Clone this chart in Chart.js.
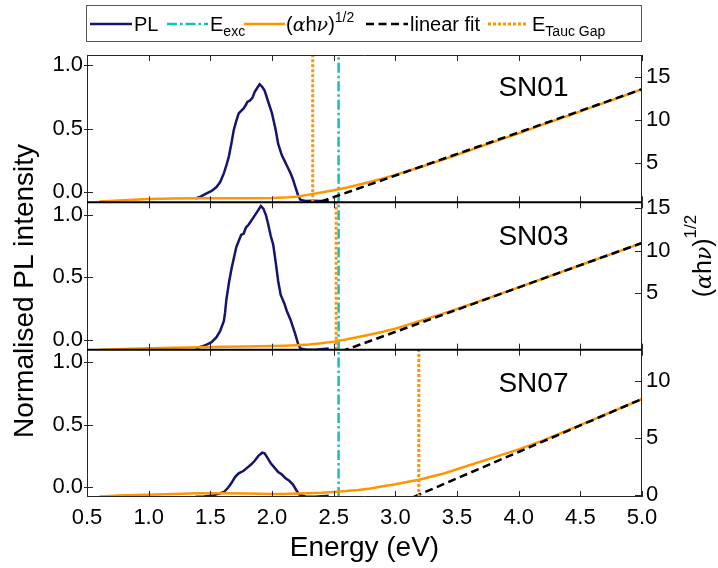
<!DOCTYPE html>
<html>
<head>
<meta charset="utf-8">
<script src="https://cdn.jsdelivr.net/npm/chart.js@4.4.1/dist/chart.umd.min.js"></script>
<style>
  html, body { margin: 0; padding: 0; background: #ffffff; }
  #wrap { position: relative; width: 718px; height: 568px; }
</style>
</head>
<body>
<div id="wrap"><canvas id="chart" width="718" height="568"></canvas></div>
<script>
// ---------------- data ----------------
const sampleNames = ['SN01', 'SN03', 'SN07'];

const xTickValues = [0.5, 1.0, 1.5, 2.0, 2.5, 3.0, 3.5, 4.0, 4.5, 5.0];
const xTickLabels = ['0.5', '1.0', '1.5', '2.0', '2.5', '3.0', '3.5', '4.0', '4.5', '5.0'];
const plTickValues = [0, 0.5, 1.0];
const plTickLabels = ['0.0', '0.5', '1.0'];
const taucTickValues = [[5, 10, 15], [5, 10, 15], [0, 5, 10]];

const excitationEnergy = 2.54;              // eV
const taucGapEnergy = [2.33, 2.52, 3.19];   // eV, SN01 / SN03 / SN07

// photoluminescence spectra (normalised)
const plEnergy01 = [1.38, 1.42, 1.47, 1.51, 1.55, 1.58, 1.61, 1.63, 1.65, 1.67, 1.69, 1.71, 1.73, 1.75, 1.77, 1.79, 1.80, 1.82, 1.84, 1.86, 1.88, 1.90, 1.92, 1.94, 1.97, 2.00, 2.03, 2.05, 2.08, 2.10, 2.13, 2.15, 2.17, 2.19, 2.21, 2.23, 2.27, 2.33, 2.40, 2.46];
const plIntensity01 = [-0.05, -0.035, -0.01, 0.01, 0.04, 0.08, 0.15, 0.21, 0.28, 0.38, 0.49, 0.56, 0.62, 0.64, 0.66, 0.69, 0.71, 0.72, 0.74, 0.79, 0.82, 0.85, 0.83, 0.80, 0.71, 0.62, 0.49, 0.38, 0.29, 0.25, 0.19, 0.15, 0.10, 0.04, -0.02, -0.06, -0.07, -0.068, -0.07, -0.065];

const plEnergy03 = [1.38, 1.43, 1.47, 1.51, 1.55, 1.58, 1.61, 1.62, 1.63, 1.65, 1.67, 1.69, 1.71, 1.73, 1.75, 1.77, 1.79, 1.81, 1.83, 1.85, 1.87, 1.89, 1.91, 1.93, 1.95, 1.97, 1.99, 2.01, 2.03, 2.05, 2.07, 2.10, 2.12, 2.15, 2.17, 2.19, 2.21, 2.23, 2.28, 2.35, 2.46];
const plIntensity03 = [-0.07, -0.055, -0.04, -0.02, 0.02, 0.07, 0.15, 0.22, 0.32, 0.45, 0.56, 0.65, 0.74, 0.79, 0.84, 0.85, 0.90, 0.92, 0.95, 0.98, 1.01, 1.04, 1.07, 1.05, 1.00, 0.92, 0.83, 0.76, 0.62, 0.47, 0.36, 0.29, 0.23, 0.16, 0.10, 0.04, -0.03, -0.07, -0.08, -0.08, -0.07];

const plEnergy07 = [1.38, 1.45, 1.53, 1.58, 1.61, 1.64, 1.67, 1.70, 1.73, 1.77, 1.80, 1.83, 1.86, 1.89, 1.92, 1.94, 1.96, 1.99, 2.02, 2.05, 2.08, 2.11, 2.14, 2.17, 2.20, 2.22, 2.27, 2.35, 2.46];
const plIntensity07 = [-0.078, -0.075, -0.065, -0.05, -0.04, -0.01, 0.03, 0.08, 0.11, 0.13, 0.155, 0.18, 0.21, 0.25, 0.275, 0.27, 0.24, 0.19, 0.155, 0.12, 0.10, 0.07, 0.05, 0.02, -0.03, -0.06, -0.075, -0.078, -0.07];

// Tauc plots, (alpha h nu)^1/2
const absEnergy = [0.6, 0.8, 1.0, 1.2, 1.4, 1.6, 1.8, 2.0, 2.1, 2.2, 2.3, 2.4, 2.5, 2.6, 2.7, 2.8, 2.9, 3.0, 3.2, 3.4, 3.6, 3.8, 4.0, 4.2, 4.4, 4.6, 4.8, 5.0];
const taucSN01 = [0.5, 0.65, 0.78, 0.85, 0.88, 0.88, 0.88, 0.9, 0.95, 1.05, 1.3, 1.55, 1.8, 2.1, 2.45, 2.8, 3.2, 3.6, 4.5, 5.45, 6.45, 7.45, 8.45, 9.5, 10.5, 11.55, 12.55, 13.6];
const taucSN03 = [-1.7, -1.62, -1.53, -1.47, -1.42, -1.36, -1.32, -1.27, -1.23, -1.17, -1.08, -0.95, -0.75, -0.5, -0.2, 0.1, 0.42, 0.78, 1.68, 2.62, 3.6, 4.62, 5.65, 6.7, 7.75, 8.8, 9.85, 10.9];
const taucSN07 = [-0.15, -0.05, 0.0, 0.07, 0.12, 0.13, 0.1, 0.06, 0.07, 0.1, 0.14, 0.18, 0.25, 0.32, 0.42, 0.55, 0.75, 0.92, 1.35, 1.9, 2.6, 3.3, 4.0, 4.8, 5.7, 6.6, 7.52, 8.45];

// linear fits (end points)
const fitEnergySN01 = [2.30, 5.0];
const fitValueSN01 = [0.0, 13.6];
const fitEnergySN03 = [2.56, 5.0];
const fitValueSN03 = [-1.91, 10.9];
const fitEnergySN07 = [3.15, 5.0];
const fitValueSN07 = [-0.19, 8.45];

// axis ranges per panel
const plAxisMin = [-0.08, -0.08, -0.08];
const plAxisMax = [1.08, 1.1, 1.1];
const taucAxisMin = [0.4, -1.7, -0.2];
const taucAxisMax = [17.6, 15.7, 12.8];

// ---------------- styles ----------------
const FONT = "'Liberation Sans', Arial, Helvetica, sans-serif";
const MATH = "'DejaVu Serif', 'Liberation Serif', serif";
const C_PL = '#15156b';
const C_EXC = '#17bcc2';
const C_TAUC = '#ff9500';
const C_FIT = '#000000';
const DASH_FIT = [8, 4.5];
const DASH_EXC = [10, 3, 2.5, 3];
const DASH_GAP = [3, 2];

const pts = (xs, ys) => xs.map((x, i) => ({ x: x, y: ys[i] }));

const plE = [plEnergy01, plEnergy03, plEnergy07];
const plI = [plIntensity01, plIntensity03, plIntensity07];
const taucV = [taucSN01, taucSN03, taucSN07];
const fitE = [fitEnergySN01, fitEnergySN03, fitEnergySN07];
const fitV = [fitValueSN01, fitValueSN03, fitValueSN07];

const datasets = [];
for (let p = 0; p < 3; p++) {
  const yl = 'yL' + (p + 1), yr = 'yR' + (p + 1);
  datasets.push({ label: 'PL ' + sampleNames[p], data: pts(plE[p], plI[p]), yAxisID: yl,
    borderColor: C_PL, borderWidth: 2.5, order: 5 });
  datasets.push({ label: 'Eexc ' + sampleNames[p],
    data: [{ x: excitationEnergy, y: plAxisMin[p] }, { x: excitationEnergy, y: plAxisMax[p] }],
    yAxisID: yl, borderColor: C_EXC, borderWidth: 2.5, borderDash: DASH_EXC, order: 4 });
  datasets.push({ label: 'Tauc ' + sampleNames[p], data: pts(absEnergy, taucV[p]), yAxisID: yr,
    borderColor: C_TAUC, borderWidth: 2.5, order: 3 });
  datasets.push({ label: 'fit ' + sampleNames[p], data: pts(fitE[p], fitV[p]), yAxisID: yr,
    borderColor: C_FIT, borderWidth: 2.5, borderDash: DASH_FIT, order: 2 });
  datasets.push({ label: 'gap ' + sampleNames[p],
    data: [{ x: taucGapEnergy[p], y: plAxisMin[p] }, { x: taucGapEnergy[p], y: plAxisMax[p] }],
    yAxisID: yl, borderColor: C_TAUC, borderWidth: 3, borderDash: DASH_GAP, order: 1 });
}

function leftAxis(p) {
  return {
    type: 'linear', position: 'left', stack: 'left', stackWeight: 1,
    min: plAxisMin[p], max: plAxisMax[p],
    grid: { display: false, drawTicks: false }, border: { display: false },
    afterBuildTicks: s => { s.ticks = plTickValues.map(v => ({ value: v })); },
    afterFit: s => { s.width = 87; },
    ticks: { padding: 4, color: '#000', font: { size: 22, family: FONT },
      callback: (v, i) => plTickLabels[i] }
  };
}
function rightAxis(p) {
  return {
    type: 'linear', position: 'right', stack: 'right', stackWeight: 1,
    min: taucAxisMin[p], max: taucAxisMax[p],
    grid: { display: false, drawTicks: false }, border: { display: false },
    afterBuildTicks: s => { s.ticks = taucTickValues[p].map(v => ({ value: v })); },
    afterFit: s => { s.width = 76; },
    ticks: { padding: 4, color: '#000', font: { size: 22, family: FONT },
      callback: v => String(v) }
  };
}

// frame, inward ticks, panel names, legend and side titles
const decorations = {
  id: 'decorations',
  afterDatasetsDraw(chart) {
    const ctx = chart.ctx;
    const area = chart.chartArea;
    const xs = chart.scales.x;
    ctx.save();
    for (let p = 0; p < 3; p++) {
      const yl = chart.scales['yL' + (p + 1)];
      const yr = chart.scales['yR' + (p + 1)];
      const top = yl.top, bottom = yl.bottom;
      ctx.strokeStyle = '#262626';
      ctx.lineWidth = 1;
      ctx.setLineDash([]);
      ctx.beginPath();
      ctx.moveTo(area.left + 0.5, top); ctx.lineTo(area.left + 0.5, bottom);
      ctx.moveTo(area.right - 0.5, top); ctx.lineTo(area.right - 0.5, bottom);
      ctx.stroke();
      // x ticks, inward at top and bottom of the panel
      ctx.beginPath();
      xTickValues.forEach(v => {
        const x = Math.round(xs.getPixelForValue(v)) + 0.5;
        ctx.moveTo(x, top); ctx.lineTo(x, top + 6);
        ctx.moveTo(x, bottom); ctx.lineTo(x, bottom - 6);
      });
      plTickValues.forEach(v => {
        const y = Math.round(yl.getPixelForValue(v)) + 0.5;
        ctx.moveTo(area.left - 3, y); ctx.lineTo(area.left + 6, y);
      });
      taucTickValues[p].forEach(v => {
        const y = Math.round(yr.getPixelForValue(v)) + 0.5;
        ctx.moveTo(area.right - 7, y); ctx.lineTo(area.right, y);
      });
      ctx.stroke();
      // sample name
      ctx.fillStyle = '#000';
      ctx.font = '28px ' + FONT;
      ctx.textAlign = 'center';
      ctx.textBaseline = 'middle';
      ctx.fillText(sampleNames[p], xs.getPixelForValue(4.12), yl.getPixelForValue(0.82));
    }
    // horizontal spines
    const tops = [1, 2, 3].map(i => chart.scales['yL' + i].top);
    const bottomY = chart.scales.yL3.bottom;
    ctx.strokeStyle = '#262626';
    ctx.lineWidth = 1;
    ctx.beginPath();
    ctx.moveTo(area.left, tops[0] + 0.5); ctx.lineTo(area.right, tops[0] + 0.5);
    ctx.moveTo(area.left, bottomY - 0.5); ctx.lineTo(area.right, bottomY - 0.5);
    ctx.stroke();
    ctx.strokeStyle = '#000';
    ctx.lineWidth = 2;
    ctx.beginPath();
    ctx.moveTo(area.left, tops[1]); ctx.lineTo(area.right, tops[1]);
    ctx.moveTo(area.left, tops[2]); ctx.lineTo(area.right, tops[2]);
    ctx.stroke();
    ctx.restore();
  },
  afterDraw(chart) {
    const ctx = chart.ctx;
    ctx.save();
    ctx.fillStyle = '#000';
    // left title
    ctx.save();
    ctx.translate(33, 291);
    ctx.rotate(-Math.PI / 2);
    ctx.font = '28px ' + FONT;
    ctx.textAlign = 'center';
    ctx.textBaseline = 'alphabetic';
    ctx.fillText('Normalised PL intensity', 0, 0);
    ctx.restore();
    // right title: (alpha h nu)^1/2
    ctx.save();
    ctx.translate(711, 256);
    ctx.rotate(-Math.PI / 2);
    const parts = [
      { t: '(', f: '25px ' + FONT, dy: 0 },
      { t: '\u03B1', f: 'italic 22px ' + MATH, dy: 0 },
      { t: 'h', f: '25px ' + FONT, dy: 0 },
      { t: '\u03BD', f: 'italic 22px ' + MATH, dy: 0 },
      { t: ')', f: '25px ' + FONT, dy: 0 },
      { t: '1/2', f: '17px ' + FONT, dy: -15 }
    ];
    drawParts(ctx, parts, 'center');
    ctx.restore();
    // legend
    drawLegend(ctx);
    ctx.restore();
  }
};

function drawParts(ctx, parts, align) {
  let total = 0;
  parts.forEach(pt => { ctx.font = pt.f; pt.w = ctx.measureText(pt.t).width; total += pt.w; });
  let x = align === 'center' ? -total / 2 : 0;
  ctx.textAlign = 'left';
  ctx.textBaseline = 'alphabetic';
  parts.forEach(pt => { ctx.font = pt.f; ctx.fillText(pt.t, x, pt.dy); x += pt.w; });
  return total;
}

function legendLine(ctx, x0, x1, y, color, width, dash) {
  ctx.save();
  ctx.strokeStyle = color;
  ctx.lineWidth = width;
  ctx.setLineDash(dash);
  ctx.beginPath();
  ctx.moveTo(x0, y); ctx.lineTo(x1, y);
  ctx.stroke();
  ctx.restore();
}

function drawLegend(ctx) {
  const bx = 86.5, by = 5.5, bw = 555, bh = 36;
  ctx.save();
  ctx.fillStyle = '#fff';
  ctx.fillRect(bx, by, bw, bh);
  ctx.strokeStyle = '#555';
  ctx.lineWidth = 1;
  ctx.strokeRect(bx, by, bw, bh);
  const ly = 24, base = 31;
  const big = '20px ' + FONT, small = '14px ' + FONT;
  ctx.fillStyle = '#000';

  legendLine(ctx, 90, 132, ly, C_PL, 2.5, []);
  ctx.save(); ctx.translate(134, base); drawParts(ctx, [{ t: 'PL', f: big, dy: 0 }], 'left'); ctx.restore();

  legendLine(ctx, 167, 208, ly, C_EXC, 2.5, DASH_EXC);
  ctx.save(); ctx.translate(210, base);
  drawParts(ctx, [{ t: 'E', f: big, dy: 0 }, { t: 'exc', f: small, dy: 5 }], 'left'); ctx.restore();

  legendLine(ctx, 244, 285, ly, C_TAUC, 2.5, []);
  ctx.save(); ctx.translate(286, base);
  drawParts(ctx, [
    { t: '(', f: big, dy: 0 }, { t: '\u03B1', f: 'italic 19px ' + MATH, dy: 0 },
    { t: 'h', f: big, dy: 0 }, { t: '\u03BD', f: 'italic 19px ' + MATH, dy: 0 },
    { t: ')', f: big, dy: 0 }, { t: '1/2', f: small, dy: -9 }
  ], 'left'); ctx.restore();

  legendLine(ctx, 366, 408, ly, C_FIT, 2.5, DASH_FIT);
  ctx.save(); ctx.translate(410, base); drawParts(ctx, [{ t: 'linear fit', f: big, dy: 0 }], 'left'); ctx.restore();

  legendLine(ctx, 488, 528, ly, C_TAUC, 3, DASH_GAP);
  ctx.save(); ctx.translate(532, base);
  drawParts(ctx, [{ t: 'E', f: big, dy: 0 }, { t: 'Tauc Gap', f: small, dy: 5 }], 'left'); ctx.restore();
  ctx.restore();
}

const scales = {
  x: {
    type: 'linear', position: 'bottom', min: 0.5, max: 5.0,
    grid: { display: false, drawTicks: false }, border: { display: false },
    afterBuildTicks: s => { s.ticks = xTickValues.map(v => ({ value: v })); },
    afterFit: s => { s.height = 71; },
    ticks: { padding: 8, color: '#000', maxRotation: 0, font: { size: 22, family: FONT },
      callback: (v, i) => xTickLabels[i] },
    title: { display: true, text: 'Energy (eV)', color: '#000',
      font: { size: 28, family: FONT }, padding: { top: 0, bottom: 3 } }
  },
  yL3: leftAxis(2), yL2: leftAxis(1), yL1: leftAxis(0),
  yR1: rightAxis(0), yR2: rightAxis(1), yR3: rightAxis(2)
};

new Chart(document.getElementById('chart'), {
  type: 'line',
  data: { datasets: datasets },
  options: {
    responsive: false,
    animation: false,
    parsing: true,
    layout: { padding: { top: 55, left: 0, right: 0, bottom: 0 } },
    elements: { point: { radius: 0 }, line: { tension: 0, fill: false, borderCapStyle: 'butt' } },
    plugins: { legend: { display: false }, tooltip: { enabled: false } },
    scales: scales
  },
  plugins: [decorations]
});
</script>
</body>
</html>
